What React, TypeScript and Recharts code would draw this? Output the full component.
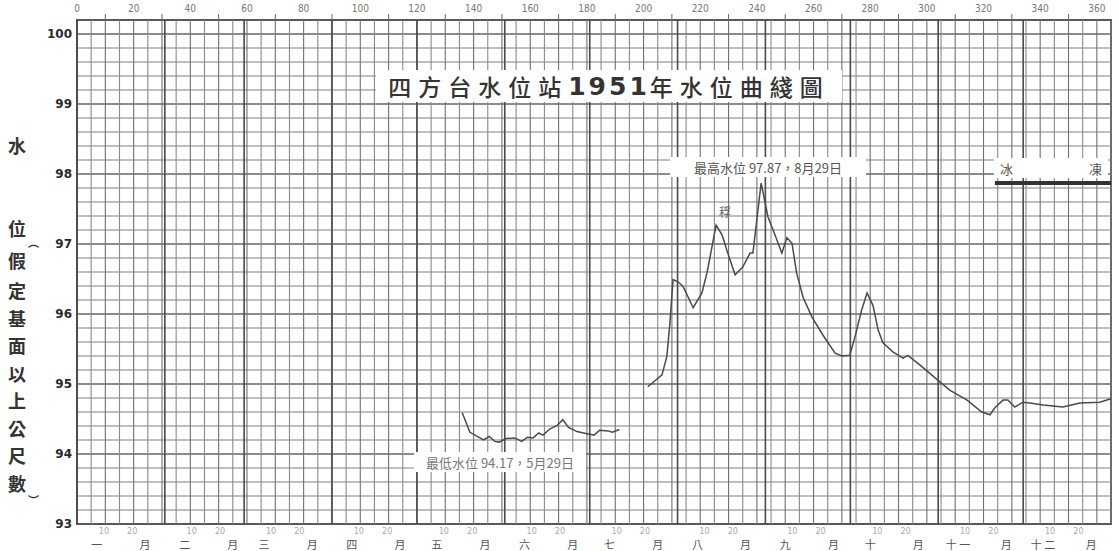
import { LineChart, Line, XAxis, YAxis, ReferenceLine, ReferenceArea } from "recharts";

// 四方台水位站 1951 — 日序 (day of year) / 水位 (m, 假定基面)
const lowDays = [136, 138.7, 143.5, 145.5, 147.5, 149, 151.5, 154.5, 157, 159, 161, 163, 164.5, 167, 169.5, 171.5, 173.5, 176.5, 180, 182.5, 184.5, 187.5, 189, 191.5];
const lowLevels = [94.59, 94.31, 94.2, 94.25, 94.18, 94.17, 94.22, 94.23, 94.18, 94.24, 94.23, 94.3, 94.27, 94.36, 94.41, 94.49, 94.38, 94.32, 94.29, 94.27, 94.34, 94.33, 94.31, 94.35];
const highDays = [201.5, 206.5, 208.2, 209.3, 210.4, 212.2, 214, 217.5, 220.6, 222.4, 223.4, 225.6, 227.7, 229.4, 232.3, 235, 237.6, 238.6, 241.5, 243.9, 246.4, 248.8, 250.6, 252.4, 254, 256.3, 259.4, 263.3, 267.6, 270, 272.8, 274.6, 277, 278.9, 281, 282.8, 284.5, 288, 291.6, 293.3, 297.6, 304.6, 308.2, 314.2, 319.4, 322.3, 324, 326.9, 328.6, 331, 333.9, 336.4, 341, 348, 354, 361, 365];
const highLevels = [94.96, 95.13, 95.39, 95.87, 96.49, 96.46, 96.39, 96.09, 96.3, 96.59, 96.8, 97.27, 97.13, 96.91, 96.56, 96.67, 96.87, 96.87, 97.87, 97.39, 97.13, 96.87, 97.09, 97.01, 96.59, 96.24, 95.96, 95.7, 95.44, 95.4, 95.41, 95.67, 96.06, 96.3, 96.12, 95.77, 95.59, 95.46, 95.37, 95.41, 95.27, 95.03, 94.91, 94.77, 94.6, 94.56, 94.66, 94.77, 94.77, 94.67, 94.74, 94.73, 94.7, 94.67, 94.73, 94.74, 94.79];
const iceDays = [324, 365];
const iceLevels = [97.87, 97.87];

const monthStarts = [0, 31, 59, 90, 120, 151, 181, 212, 243, 273, 304, 334];
const monthNames = ["一", "二", "三", "四", "五", "六", "七", "八", "九", "十", "十 一", "十 二"];
const topTicks = [0, 10, 20, 30, 40, 50, 60, 70, 80, 90, 100, 110, 120, 130, 140, 150, 160, 170, 180, 190, 200, 210, 220, 230, 240, 250, 260, 270, 280, 290, 300, 310, 320, 330, 340, 350, 360];
const yTicks = [93, 94, 95, 96, 97, 98, 99, 100];
const yTitle = ["水", "位", "︵", "假", "定", "基", "面", "以", "上", "公", "尺", "數", "︶"];

const stageData = [
  ...lowDays.map((d, i) => ({ day: d, level: lowLevels[i] })),
  { day: 196, level: null },
  ...highDays.map((d, i) => ({ day: d, level: highLevels[i] })),
];
const iceData = iceDays.map((d, i) => ({ day: d, level: iceLevels[i] }));

// grid: every 5 days, every 0.2 m
const gridDays = Array.from({ length: 74 }, (_, i) => i * 5);
const gridLevels = Array.from({ length: 37 }, (_, i) => Math.round((93 + i * 0.2) * 10) / 10);

// bottom labels: month name, 10, 20, 月
const bottomMap = new Map<number, { text: string; row: number }>();
monthStarts.forEach((s, i) => {
  bottomMap.set(s + 7, { text: monthNames[i], row: 1 });
  bottomMap.set(s + 9.5, { text: "10", row: 0 });
  bottomMap.set(s + 19.5, { text: "20", row: 0 });
  bottomMap.set(s + 24, { text: "月", row: 1 });
});
const bottomTicks = Array.from(bottomMap.keys()).sort((a, b) => a - b);

const cjk = '"Noto Sans CJK TC", "Noto Sans CJK SC", sans-serif';

function TopTick({ x, y, payload }: any) {
  if (payload.value % 20 === 0) {
    return (
      <text x={x} y={y - 8} textAnchor="middle" fontSize={10} fill="#777" fontFamily="'DejaVu Sans Condensed', sans-serif">
        {payload.value}
      </text>
    );
  }
  return <line x1={x} x2={x} y1={y - 6} y2={y} stroke="#666" strokeWidth={1} />;
}

function BottomTick({ x, y, payload }: any) {
  const lab = bottomMap.get(payload.value);
  if (!lab) return null;
  if (lab.row === 0) {
    return (
      <text x={x} y={y + 10} textAnchor="middle" fontSize={9} fill="#aaa" fontFamily="'DejaVu Sans Condensed', sans-serif">
        {lab.text}
      </text>
    );
  }
  return (
    <text x={x} y={y + 25} textAnchor="middle" fontSize={11} fill="#555" fontFamily={cjk}>
      {lab.text}
    </text>
  );
}

function WhiteNote({ left, top, width, height, children, style }: any) {
  return (
    <div
      style={{
        position: "absolute",
        left,
        top,
        width,
        height,
        background: "#fff",
        display: "flex",
        alignItems: "center",
        justifyContent: "center",
        whiteSpace: "nowrap",
        fontFamily: cjk,
        ...style,
      }}
    >
      {children}
    </div>
  );
}

const yTitleTops = [135, 218, 236, 250, 280, 308, 335, 363, 390, 418, 445, 473, 494];

export default function App() {
  return (
    <div style={{ position: "absolute", left: 0, top: 0, width: 1119, height: 551, background: "#fff", overflow: "hidden" }}>
      <LineChart width={1119} height={551} data={stageData} margin={{ top: 0, right: 8, bottom: 0, left: 0 }}>
        <XAxis xAxisId="top" orientation="top" type="number" dataKey="day" domain={[0, 365]} ticks={topTicks} interval={0} height={20} tickSize={0} tickMargin={0} axisLine={false} tick={<TopTick />} />
        <XAxis xAxisId="b" orientation="bottom" type="number" dataKey="day" domain={[0, 365]} ticks={bottomTicks} interval={0} height={27} tickSize={0} tickMargin={0} axisLine={false} tick={<BottomTick />} />
        <YAxis type="number" domain={[93, 100.2]} ticks={yTicks} interval={0} width={77} tickSize={0} tickMargin={5} axisLine={false} allowDataOverflow tick={{ fontSize: 12, fontWeight: 700, fill: "#2a2a2a", fontFamily: "'DejaVu Sans', sans-serif" }} />

        {gridLevels.map((v) => (
          <ReferenceLine key={"h" + v} xAxisId="b" y={v} stroke={Number.isInteger(v) ? "#666" : "#808080"} strokeWidth={Number.isInteger(v) ? 1.3 : 1.1} />
        ))}
        {gridDays.map((d) => (
          <ReferenceLine key={"v" + d} xAxisId="b" x={d} stroke={d % 10 === 0 ? "#707070" : "#8a8a8a"} strokeWidth={1.1} />
        ))}
        {monthStarts.map((d) => (
          <ReferenceLine key={"m" + d} xAxisId="b" x={d} stroke="#4a4a4a" strokeWidth={1.6} />
        ))}
        <ReferenceArea xAxisId="b" x1={0} x2={365} y1={93} y2={100.2} fill="none" stroke="#333" strokeWidth={1.8} />

        <Line xAxisId="b" type="linear" dataKey="level" stroke="#4a4a4a" strokeWidth={1.5} dot={false} connectNulls={false} isAnimationActive={false} />
        <Line xAxisId="b" data={iceData} type="linear" dataKey="level" stroke="#333" strokeWidth={4} dot={false} isAnimationActive={false} />
      </LineChart>

      <WhiteNote left={376} top={70} width={466} height={32} style={{ fontSize: 23, letterSpacing: 7, color: "#333", fontWeight: 500 }}>
        四方台水位站<span style={{ fontFamily: "'DejaVu Sans', sans-serif", fontWeight: 700, fontSize: 25, letterSpacing: 3 }}>1951</span>年水位曲綫圖
      </WhiteNote>
      <WhiteNote left={670} top={157} width={196} height={20} style={{ fontSize: 13, color: "#555" }}>
        最高水位 97.87，8月29日
      </WhiteNote>
      <WhiteNote left={414} top={452} width={172} height={20} style={{ fontSize: 13, color: "#777" }}>
        最低水位 94.17，5月29日
      </WhiteNote>
      <WhiteNote left={994} top={158} width={114} height={20} style={{ fontSize: 13, color: "#555", justifyContent: "space-between", padding: "0 6px", boxSizing: "border-box" }}>
        <span>冰</span>
        <span>凍</span>
      </WhiteNote>
      <div style={{ position: "absolute", left: 719, top: 203, fontSize: 12, color: "#666", fontFamily: cjk }}>稃</div>

      {yTitle.map((ch, i) => {
        const isParen = ch === "︵" || ch === "︶";
        return (
          <div
            key={i}
            style={{
              position: "absolute",
              left: isParen ? 28 : 8,
              top: yTitleTops[i],
              fontSize: isParen ? 11 : 18,
              fontWeight: 700,
              color: "#333",
              fontFamily: cjk,
              lineHeight: isParen ? "12px" : "20px",
            }}
          >
            {ch}
          </div>
        );
      })}
    </div>
  );
}
